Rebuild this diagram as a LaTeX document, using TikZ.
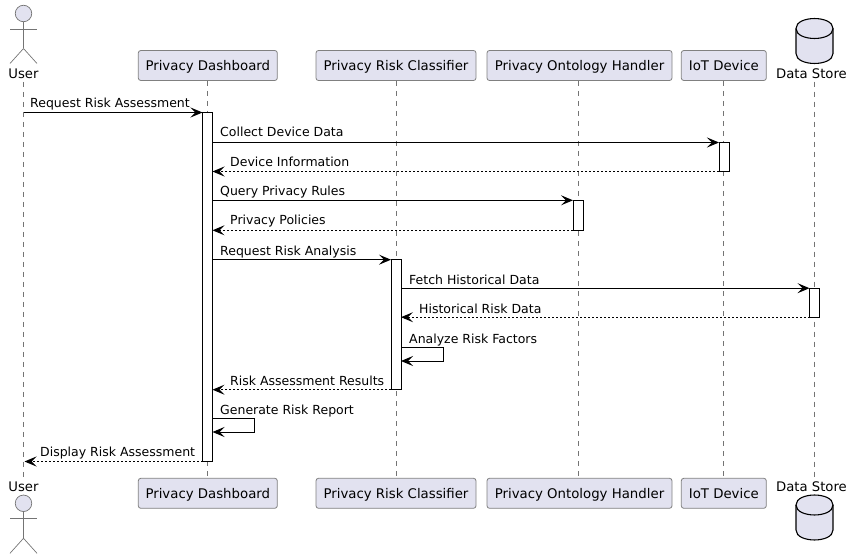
\documentclass[tikz,border=0pt]{standalone}
\usepackage{fontspec}
\setmainfont{DejaVu Sans}
\usetikzlibrary{arrows.meta,calc,shapes.geometric}
\definecolor{pfill}{HTML}{E2E2F0}
\definecolor{ink}{HTML}{181818}
\tikzset{
  x=1pt,y=-1pt,
  part/.style={draw=ink!55,line width=0.8pt,fill=pfill,rounded corners=2.5pt,minimum height=30pt,inner sep=0pt,text height=12pt,text depth=1.6pt,font=\fontsize{13.3}{15}\selectfont,text=black},
  plabel/.style={anchor=base,inner sep=0pt,text height=12pt,text depth=3pt,font=\fontsize{13.2}{15}\selectfont,text=black},
  life/.style={draw=ink!60,line width=0.6pt,dash pattern=on 5pt off 5pt},
  bar/.style={draw=black,fill=white,line width=1pt,minimum width=10pt,inner sep=0pt,outer sep=0pt},
  msg/.style={draw=black,line width=1pt,-{Stealth[length=12pt,width=10pt,inset=5pt]}},
  ret/.style={msg,dash pattern=on 2pt off 2pt},
  lbl/.style={anchor=base west,inner sep=0pt,font=\fontsize{12.5}{14}\selectfont,text=black},
  stick/.style={draw=ink!60,line width=0.7pt},
  head/.style={circle,draw=ink!60,fill=pfill,line width=0.7pt,minimum size=16.5pt,inner sep=0pt}
}
\newcommand{\cyl}[2]{% x centre, top y
  \draw[draw=black,fill=pfill,line width=1.1pt]
    (#1-18.5,#2+10) .. controls (#1-18.5,#2-3.3) and (#1+18.5,#2-3.3) .. (#1+18.5,#2+10)
    -- (#1+18.5,#2+35) .. controls (#1+18.5,#2+48.3) and (#1-18.5,#2+48.3) .. (#1-18.5,#2+35) -- cycle;
  \draw[draw=black,line width=1.1pt]
    (#1-18.5,#2+10) .. controls (#1-18.5,#2+23.3) and (#1+18.5,#2+23.3) .. (#1+18.5,#2+10);
}
\newcommand{\actor}[2]{% x centre, head centre y
  \draw[stick] (#1,#2+8) -- (#1,#2+35);
  \draw[stick] (#1-13.5,#2+15.5) -- (#1+13.5,#2+15.5);
  \draw[stick] (#1-13.5,#2+50) -- (#1,#2+35) -- (#1+13.5,#2+50);
  \node[head] at (#1,#2) {};
}
\begin{document}
\begin{tikzpicture}
\useasboundingbox (0,0) rectangle (852,559);
% head and foot labels/boxes
\node[plabel] (userT) at (23.5,78.7) {User};
\node[plabel] (userB) at (23.5,491.3) {User};
\node[part,minimum width=139pt] (dashT) at (207.8,65.5) {Privacy Dashboard};
\node[part,minimum width=139pt] (dashB) at (207.8,493.3) {Privacy Dashboard};
\node[part,minimum width=160pt] (clasT) at (396,65.5) {Privacy Risk Classifier};
\node[part,minimum width=160pt] (clasB) at (396,493.3) {Privacy Risk Classifier};
\node[part,minimum width=185pt] (ontoT) at (579.5,65.5) {Privacy Ontology Handler};
\node[part,minimum width=185pt] (ontoB) at (579.5,493.3) {Privacy Ontology Handler};
\node[part,minimum width=85pt] (iotT) at (723.8,65.5) {IoT Device};
\node[part,minimum width=85pt] (iotB) at (723.8,493.3) {IoT Device};
\node[plabel] (storeT) at (811.5,78.7) {Data Store};
\node[plabel] (storeB) at (811.5,491.3) {Data Store};
% lifelines
\draw[life] (userT.south -| 23.5,0) -- (userB.north -| 23.5,0);
\draw[life] (207.5,81) -- (207.5,478.3);
\draw[life] (396,81) -- (396,478.3);
\draw[life] (578,81) -- (578,478.3);
\draw[life] (723.5,81) -- (723.5,478.3);
\draw[life] (814.5,81.7) -- (814.5,478);
% actors, stores
\actor{23.5}{13.5}
\actor{23.5}{503.3}
\cyl{814.5}{18.5}
\cyl{814.5}{495}
% activation bars
\node[bar,minimum height=349pt] (barD) at (207.5,287) {};
\node[bar,minimum height=130pt] (barC) at (396,324.7) {};
\node[bar,minimum height=30pt] (barO) at (578,215.3) {};
\node[bar,minimum height=29pt] (barI) at (724,157) {};
\node[bar,minimum height=29pt] (barS) at (814.5,302.7) {};
\coordinate (u1) at (23.5,112.5);
\coordinate (u2) at (24.5,461.5);
% messages
\draw[msg] (u1) -- (barD.north west);
\draw[msg] (barD.east |- barI.north) -- (barI.north west);
\draw[ret] (barI.south west) -- (barD.east |- barI.south);
\draw[msg] (barD.east |- barO.north) -- (barO.north west);
\draw[ret] (barO.south west) -- (barD.east |- barO.south);
\draw[msg] (barD.east |- barC.north) -- (barC.north west);
\draw[msg] (barC.east |- barS.north) -- (barS.north west);
\draw[ret] (barS.south west) -- (barC.east |- barS.south);
\coordinate (s1) at (443,347.5);
\coordinate (s2) at (443,361);
\draw[msg] (barC.east |- s1) -- (s1) -- (s2) -- (barC.east |- s2);
\draw[ret] (barC.south west) -- (barD.east |- barC.south);
\coordinate (d1) at (254.5,418);
\coordinate (d2) at (254.5,432);
\draw[msg] (barD.east |- d1) -- (d1) -- (d2) -- (barD.east |- d2);
\draw[ret] (barD.south west) -- (u2);
% labels
\node[lbl] (m1) at (30,108) {Request Risk Assessment};
\node[lbl] (m2) at (220,137) {Collect Device Data};
\node[lbl] (m3) at (230,167) {Device Information};
\node[lbl] (m4) at (220,196) {Query Privacy Rules};
\node[lbl] (m5) at (230,225) {Privacy Policies};
\node[lbl] (m6) at (220,255) {Request Risk Analysis};
\node[lbl] (m7) at (409,284) {Fetch Historical Data};
\node[lbl] (m8) at (419,313) {Historical Risk Data};
\node[lbl] (m9) at (409,343) {Analyze Risk Factors};
\node[lbl] (m10) at (230,385) {Risk Assessment Results};
\node[lbl] (m11) at (220,414) {Generate Risk Report};
\node[lbl] (m12) at (40,456) {Display Risk Assessment};
\end{tikzpicture}
\end{document}
